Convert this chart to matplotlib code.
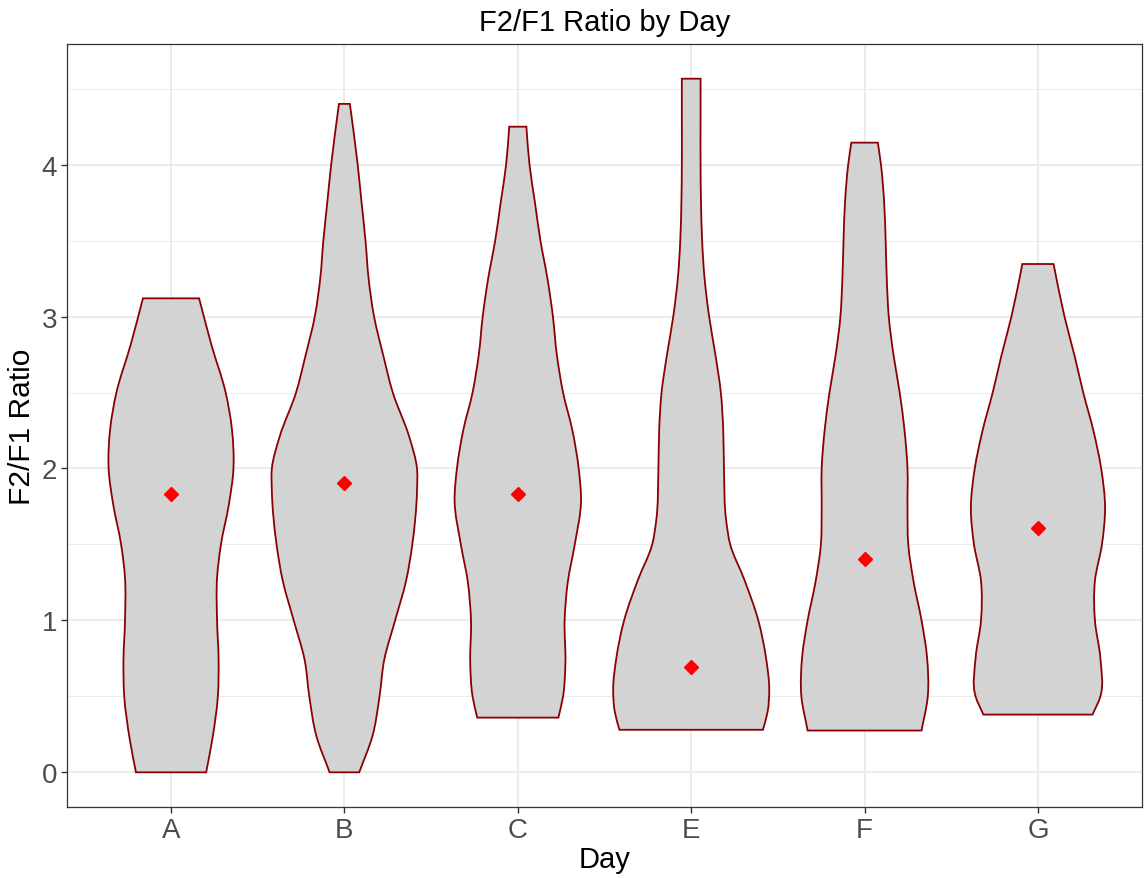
import numpy as np
import matplotlib.pyplot as plt
from matplotlib.path import Path
from matplotlib.patches import PathPatch
from matplotlib.ticker import MultipleLocator

plt.rcParams['font.family'] = ['Liberation Sans', 'DejaVu Sans']

# Dias y medias (rombos rojos)
days = ["A", "B", "C", "E", "F", "G"]
means = [1.835, 1.907, 1.832, 0.69, 1.404, 1.606]

# Perfil de cada violin: niveles de F2/F1 y densidad escalada (1 = la mas ancha)
lev_A = [0, 0.22, 0.5, 0.73, 1.0, 1.28, 1.5, 1.76, 2.0, 2.26, 2.5, 2.81, 3.12]
den_A = [0.45, 0.53, 0.60, 0.61, 0.59, 0.59, 0.64, 0.74, 0.80, 0.78, 0.70, 0.52, 0.36]

lev_B = [0, 0.24, 0.5, 0.74, 1.0, 1.26, 1.5, 1.85, 2.0, 2.21, 2.5, 2.74, 3.0, 3.25, 3.5, 3.75, 4.0, 4.40]
den_B = [0.19, 0.36, 0.45, 0.51, 0.65, 0.79, 0.87, 0.93, 0.93, 0.83, 0.62, 0.50, 0.38, 0.31, 0.27, 0.22, 0.17, 0.07]

lev_C = [0.36, 0.5, 0.72, 1.0, 1.25, 1.5, 1.78, 2.0, 2.25, 2.5, 2.75, 3.0, 3.25, 3.5, 3.75, 4.0, 4.25]
den_C = [0.52, 0.58, 0.61, 0.60, 0.64, 0.73, 0.81, 0.78, 0.70, 0.58, 0.50, 0.45, 0.38, 0.29, 0.22, 0.15, 0.11]

lev_E = [0.28, 0.40, 0.55, 0.75, 1.0, 1.27, 1.5, 1.65, 2.0, 2.26, 2.5, 2.75, 3.0, 3.26, 3.5, 3.77, 4.0, 4.3, 4.566]
den_E = [0.92, 0.98, 1.0, 0.96, 0.86, 0.68, 0.50, 0.45, 0.42, 0.41, 0.38, 0.31, 0.23, 0.17, 0.14, 0.125, 0.12, 0.12, 0.12]

lev_F = [0.275, 0.5, 0.76, 1.0, 1.25, 1.5, 1.74, 2.0, 2.26, 2.5, 2.75, 3.0, 3.24, 3.5, 3.76, 4.0, 4.145]
den_F = [0.73, 0.81, 0.80, 0.73, 0.63, 0.56, 0.55, 0.55, 0.51, 0.45, 0.37, 0.31, 0.285, 0.27, 0.25, 0.21, 0.17]

lev_G = [0.38, 0.5, 0.75, 1.0, 1.26, 1.5, 1.74, 2.0, 2.25, 2.5, 2.74, 3.0, 3.346]
den_G = [0.70, 0.80, 0.80, 0.73, 0.73, 0.82, 0.86, 0.81, 0.71, 0.58, 0.47, 0.34, 0.20]

levels = [lev_A, lev_B, lev_C, lev_E, lev_F, lev_G]
dens = [den_A, den_B, den_C, den_E, den_F, den_G]


def hermite_side(x, y):
    # lado del violin como curvas Bezier (Hermite con pendientes dx/dy)
    m = np.gradient(x, y)
    verts, codes = [], []
    for i in range(len(y) - 1):
        h = y[i + 1] - y[i]
        verts += [(x[i] + m[i] * h / 3, y[i] + h / 3),
                  (x[i + 1] - m[i + 1] * h / 3, y[i + 1] - h / 3),
                  (x[i + 1], y[i + 1])]
        codes += [Path.CURVE4] * 3
    return verts, codes


def violin_path(center, y, d, half=0.45):
    y = np.asarray(y, float)
    w = np.asarray(d, float) * half
    verts = [(center + w[0], y[0])]
    codes = [Path.MOVETO]
    v, c = hermite_side(center + w, y)
    verts += v; codes += c
    verts.append((center - w[-1], y[-1])); codes.append(Path.LINETO)
    v, c = hermite_side((center - w)[::-1], y[::-1])
    verts += v; codes += c
    verts.append((center + w[0], y[0])); codes.append(Path.CLOSEPOLY)
    return Path(verts, codes)


fig = plt.figure(figsize=(11.44, 8.79), dpi=100)
ax = fig.add_axes([67 / 1144, 1 - 808 / 879, 1075 / 1144, 763 / 879])

pos = np.arange(1, len(days) + 1)
for p, y, d in zip(pos, levels, dens):
    ax.add_patch(PathPatch(violin_path(p, y, d), facecolor="#D3D3D3",
                           edgecolor="#8B0000", lw=1.3, zorder=3))
ax.plot(pos, means, linestyle="none", marker="D", color="red", ms=6.8, zorder=4)

# limites estilo ggplot (5% de expansion)
ymax = max(max(l) for l in levels)
ax.set_xlim(0.4, len(days) + 0.6)
ax.set_ylim(-0.05 * ymax, ymax * 1.05)

ax.set_xticks(pos)
ax.set_xticklabels(days)
ax.yaxis.set_major_locator(MultipleLocator(1))
ax.yaxis.set_minor_locator(MultipleLocator(0.5))
ax.grid(True, which="major", color="#EBEBEB", lw=1.4, zorder=0)
ax.grid(True, which="minor", axis="y", color="#EBEBEB", lw=0.7, zorder=0)
ax.set_axisbelow(True)
ax.tick_params(which="major", length=4, width=1, color="#333333",
               labelsize=20, labelcolor="#4D4D4D", pad=3)
ax.tick_params(which="minor", length=0)
for s in ax.spines.values():
    s.set_color("#333333")
    s.set_linewidth(0.9)

ax.set_title("F2/F1 Ratio by Day", fontsize=21, pad=10)
ax.set_xlabel("Day", fontsize=21, labelpad=2)
ax.set_ylabel("F2/F1 Ratio", fontsize=21.5, labelpad=4)

fig.savefig("out.png", dpi=100)
